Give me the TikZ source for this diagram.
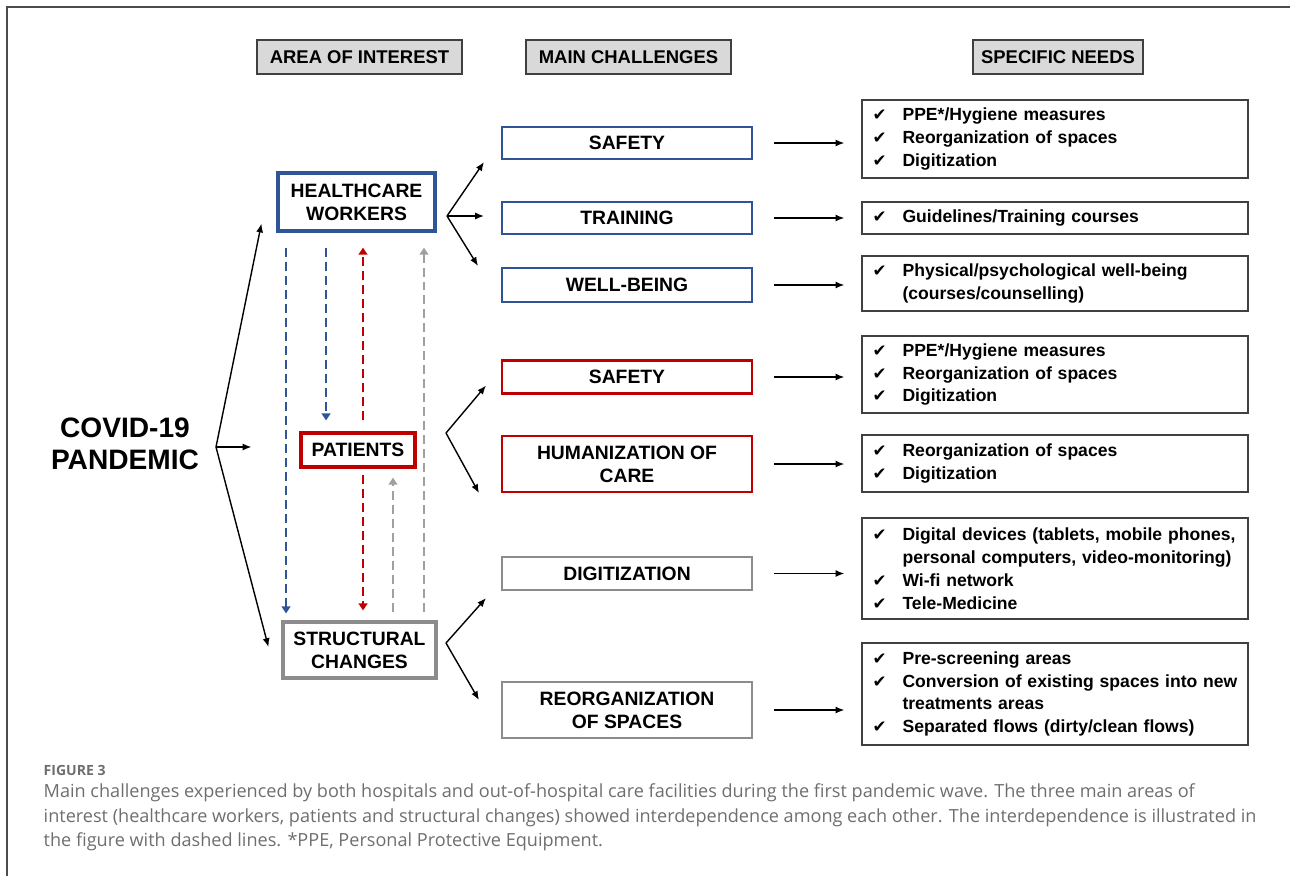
\documentclass[tikz,border=0pt]{standalone}
\usepackage{fontspec}
\setmainfont{Liberation Sans}
\newfontfamily\capfont{Open Sans}
\newfontfamily\symfont{DejaVu Sans}
\usetikzlibrary{arrows.meta,calc}
\definecolor{hcblue}{HTML}{2F5597}
\definecolor{patred}{HTML}{C00000}
\definecolor{strgray}{HTML}{8C8C8C}
\definecolor{dashgray}{HTML}{A0A0A0}
\definecolor{hdrfill}{HTML}{D9D9D9}
\definecolor{capgray}{HTML}{6E6E6E}
\newcommand{\tick}{{\symfont\fontsize{9.5}{9}\selectfont ✔}}
\newcommand{\needline}[1]{\mbox{\makebox[0.6cm][l]{\tick}#1}}
\newcommand{\needcont}[1]{\mbox{\hspace*{0.6cm}#1}}

\tikzset{
  hdr/.style={draw=black!75, line width=0.8pt, fill=hdrfill, minimum height=0.68cm,
    font=\bfseries\fontsize{10.5}{13}\selectfont},
  area/.style={draw=#1, line width=1.8pt, fill=white, align=center,
    font=\bfseries\fontsize{11}{13}\selectfont},
  chal/.style={draw=#1, line width=1.2pt, minimum width=5cm, align=center,
    font=\bfseries\fontsize{11}{13}\selectfont},
  need/.style={draw=black!75, line width=0.8pt, minimum width=7.72cm, text width=7.3cm,
    align=left, font=\bfseries\fontsize{10}{13}\selectfont},
  dsh/.style={draw=#1, line width=1.1pt, dash pattern=on 0.18cm off 0.1cm,
    -{Triangle[length=4pt,width=5pt]}},
  capt/.style={inner sep=0, text=capgray, font=\capfont\fontsize{10.3}{12}\selectfont}
}

\begin{document}
\begin{tikzpicture}[x=0.02cm, y=-0.02cm, >={Latex[length=5pt,width=4pt]}, line width=0.8pt]
\useasboundingbox (0,0) rectangle (1290,876);
\draw[black!70, line width=1pt] (7,876) -- (7,7) -- (1290,7);

% column titles
\node[hdr, minimum width=4.1cm] (aoi) at (359.5,57) {AREA OF INTEREST};
\node[hdr, minimum width=4.1cm] (mch) at (628.5,57) {MAIN CHALLENGES};
\node[hdr, minimum width=3.4cm] (spn) at (1058,57) {SPECIFIC NEEDS};

\node[font=\bfseries\fontsize{16}{18}\selectfont, align=center] (covid) at (125,444) {COVID-19\\PANDEMIC};

% areas of interest
\node[area=hcblue, minimum width=3.14cm, minimum height=1.16cm] (hcw) at (356.5,202) {HEALTHCARE\\WORKERS};
\node[area=patred, minimum width=2.28cm, minimum height=0.68cm] (pat) at (358,450) {PATIENTS};
\node[area=strgray, minimum width=3.06cm, minimum height=1.12cm] (stc) at (359.5,650) {STRUCTURAL\\CHANGES};

% challenges
\node[chal=hcblue, minimum height=0.64cm] (saf1) at (627,143) {SAFETY};
\node[chal=hcblue, minimum height=0.64cm] (trn) at (627,218) {TRAINING};
\node[chal=hcblue, minimum height=0.68cm] (wbe) at (627,285) {WELL-BEING};
\node[chal=patred, minimum height=0.66cm] (saf2) at (627,377) {SAFETY};
\node[chal=patred, minimum height=1.12cm] (hum) at (627,464) {HUMANIZATION OF\\CARE};
\node[chal=strgray, minimum height=0.66cm] (dig) at (627,573.5) {DIGITIZATION};
\node[chal=strgray, minimum height=1.12cm] (reo) at (627,710) {REORGANIZATION\\OF SPACES};

% specific needs
\node[need, minimum height=1.56cm] (n1) at (1055,139) {\needline{PPE*/Hygiene measures}\\\needline{Reorganization of spaces}\\\needline{Digitization}};
\node[need, minimum height=0.64cm] (n2) at (1055,218) {\needline{Guidelines/Training courses}};
\node[need, minimum height=1.1cm] (n3) at (1055,283.5) {\needline{Physical/psychological well-being}\\\needcont{(courses/counselling)}};
\node[need, minimum height=1.54cm] (n4) at (1055,374.5) {\needline{PPE*/Hygiene measures}\\\needline{Reorganization of spaces}\\\needline{Digitization}};
\node[need, minimum height=1.14cm] (n5) at (1055,463.5) {\needline{Reorganization of spaces}\\\needline{Digitization}};
\node[need, minimum height=2.02cm] (n6) at (1055,568.5) {\needline{Digital devices (tablets, mobile phones,}\\\needcont{personal computers, video-monitoring)}\\\needline{Wi-fi network}\\\needline{Tele-Medicine}};
\node[need, minimum height=2.04cm] (n7) at (1055,694) {\needline{Pre-screening areas}\\\needline{Conversion of existing spaces into new}\\\needcont{treatments areas}\\\needline{Separated flows (dirty/clean flows)}};

% branches
\coordinate (cv) at (216,447);
\draw[->] (cv) -- ($(hcw.south west)+(-15,-9)$);
\draw[->] (cv) -- ($(pat.west)+(-48,-3)$);
\draw[->] (cv) -- ($(stc.west)+(-13,-3)$);
\coordinate (hb) at (447,216);
\draw[->] (hb) -- ($(saf1.south west)+(-17,2)$);
\draw[->] (hb) -- ($(trn.west)+(-17,-2)$);
\draw[->] (hb) -- ($(wbe.north west)+(-23,-1)$);
\coordinate (pb) at (446,433);
\draw[->] (pb) -- ($(saf2.south west)+(-15,-9)$);
\draw[->] (pb) -- ($(hum.south west)+(-22,0)$);
\coordinate (sb) at (446,643);
\draw[->] (sb) -- ($(dig.south west)+(-15,7)$);
\draw[->] (sb) -- ($(reo.west)+(-22,-10)$);

\foreach \c/\n in {saf1/n1, trn/n2, wbe/n3, saf2/n4, hum/n5, dig/n6, reo/n7}
  \draw[->, shorten <=0.42cm, shorten >=0.34cm] (\c.east) -- (\c.east -| \n.west);

% interdependence
\draw[dsh=hcblue, shorten <=0.3cm, shorten >=0.14cm] ([xshift=-1.41cm]hcw.south) -- ([xshift=-1.41cm]hcw.south |- stc.north);
\draw[dsh=hcblue, shorten <=0.3cm, shorten >=0.22cm] ([xshift=-0.61cm]hcw.south) -- ([xshift=-0.61cm]hcw.south |- pat.north);
\draw[dsh=patred, shorten <=0.22cm, shorten >=0.3cm] ([xshift=0.1cm]pat.north) -- ([xshift=0.1cm]pat.north |- hcw.south);
\draw[dsh=patred, shorten <=0.12cm, shorten >=0.2cm] ([xshift=0.1cm]pat.south) -- ([xshift=0.1cm]pat.south |- stc.north);
\draw[dsh=dashgray, shorten <=0.16cm, shorten >=0.18cm] ([xshift=0.7cm]pat.south |- stc.north) -- ([xshift=0.7cm]pat.south);
\draw[dsh=dashgray, shorten <=0.16cm, shorten >=0.3cm] ([xshift=1.32cm]pat.south |- stc.north) -- ([xshift=1.32cm]pat.north |- hcw.south);

% caption
\node[capt, font=\capfont\bfseries\fontsize{8}{9}\selectfont, anchor=base west] (fig) at (43,775) {FIGURE 3};
\node[capt, anchor=base west] (cap1) at (43,797) {Main challenges experienced by both hospitals and out-of-hospital care facilities during the first pandemic wave. The three main areas of};
\node[capt, anchor=base west] (cap2) at (43,822) {interest (healthcare workers, patients and structural changes) showed interdependence among each other. The interdependence is illustrated in};
\node[capt, anchor=base west] (cap3) at (43,846) {the figure with dashed lines. *PPE, Personal Protective Equipment.};
\end{tikzpicture}
\end{document}
